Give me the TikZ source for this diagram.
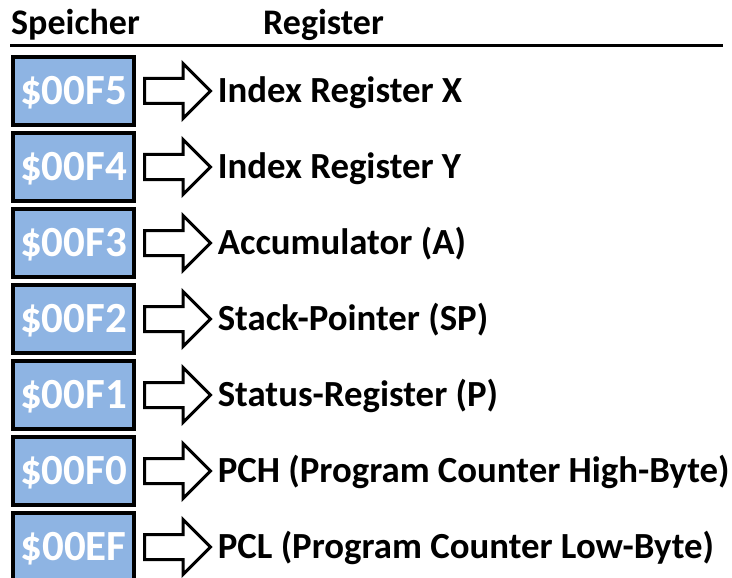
\documentclass[tikz,border=0pt]{standalone}
\usepackage{fontspec}
\setmainfont{Carlito}
\usepackage{xcolor}
\usetikzlibrary{shapes,shapes.arrows}
\usetikzlibrary{arrows.meta}
\usetikzlibrary{positioning}
\definecolor{cellblue}{RGB}{142,180,227}

\begin{document}
\begin{tikzpicture}[x=1pt,y=-1pt]
\tikzset{memcell/.style={rectangle,draw,line width=4pt,fill=cellblue,minimum width=121pt,minimum height=68pt,inner sep=0pt,text height=27pt,text depth=0pt,text=white,font=\fontsize{43}{45}\selectfont\bfseries},
regarrow/.style={single arrow,draw,line width=3pt,minimum height=66pt,minimum width=52pt,single arrow head extend=15pt,inner sep=0pt,text height=11pt,text depth=11pt},
reglabel/.style={inner sep=0pt,text height=23pt,text depth=0pt,font=\fontsize{36.8}{40}\selectfont\bfseries},
headline/.style={inner sep=0pt,anchor=base west,font=\fontsize{36}{40}\selectfont\bfseries}}
\useasboundingbox (0,0) rectangle (732,578);
\node[headline](speicher) at (11,35){Speicher};
\node[headline](register) at (263,35){Register};
\draw[line width=3pt] (10,46) -- (723,46);
\node[memcell](a) at (73.5,91){\$00F5};
\node[regarrow,right=7pt of a](aa){};
\node[reglabel,right=5pt of aa](al){Index Register X};
\node[memcell,below=4pt of a](b){\$00F4};
\node[regarrow,right=7pt of b](ba){};
\node[reglabel,right=5pt of ba](bl){Index Register Y};
\node[memcell,below=4pt of b](c){\$00F3};
\node[regarrow,right=7pt of c](ca){};
\node[reglabel,right=5pt of ca](cl){Accumulator (A)};
\node[memcell,below=4pt of c](d){\$00F2};
\node[regarrow,right=7pt of d](da){};
\node[reglabel,right=5pt of da](dl){Stack-Pointer (SP)};
\node[memcell,below=4pt of d](e){\$00F1};
\node[regarrow,right=7pt of e](ea){};
\node[reglabel,right=5pt of ea](el){Status-Register (P)};
\node[memcell,below=4pt of e](f){\$00F0};
\node[regarrow,right=7pt of f](fa){};
\node[reglabel,right=5pt of fa](fl){PCH (Program Counter High-Byte)};
\node[memcell,below=4pt of f](g){\$00EF};
\node[regarrow,right=7pt of g](ga){};
\node[reglabel,right=5pt of ga](gl){PCL (Program Counter Low-Byte)};
\end{tikzpicture}
\end{document}
